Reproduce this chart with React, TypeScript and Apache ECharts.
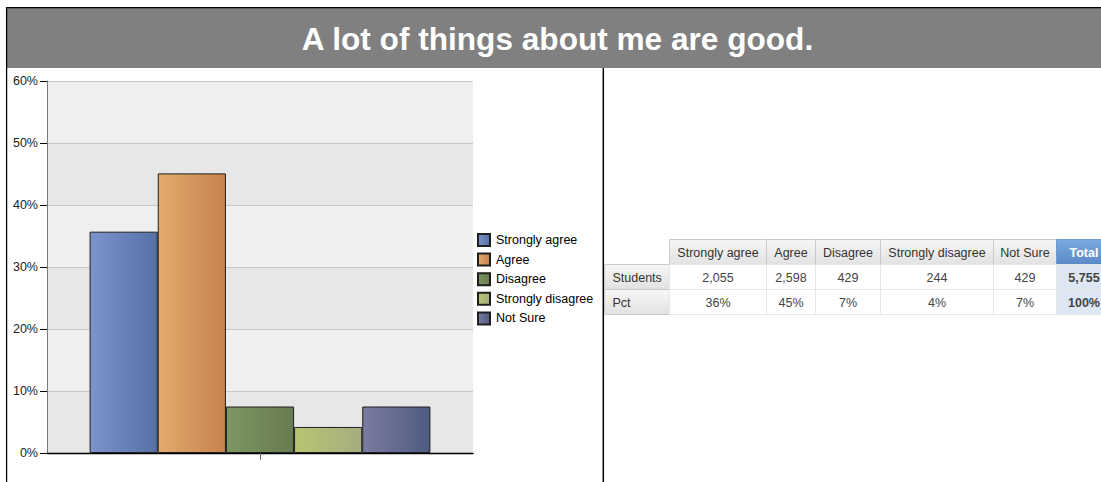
import React, { useEffect, useRef } from "react";
import * as echarts from "echarts";

// ---- Data ----
const chartTitle = "A lot of things about me are good.";
const categories = ["Responses"];
const seriesNames = ["Strongly agree", "Agree", "Disagree", "Strongly disagree", "Not Sure"];
const pctValues = [35.7, 45.1, 7.5, 4.2, 7.5];
const yTicks = [0, 10, 20, 30, 40, 50, 60];
const tableColumns = ["Strongly agree", "Agree", "Disagree", "Strongly disagree", "Not Sure", "Total"];
const tableRowLabels = ["Students", "Pct"];
const studentCounts = [2055, 2598, 429, 244, 429];
const studentTotal = 5755;
const tablePct = [36, 45, 7, 4, 7];
const tablePctTotal = 100;

// ---- Styles ----
const FONT = "'Liberation Sans', Arial, Helvetica, sans-serif";
const barGradients: [string, string][] = [
  ["#7c95cd", "#5470a5"],
  ["#e2ab6d", "#c8824d"],
  ["#7d9761", "#677b51"],
  ["#b7c673", "#a4ad80"],
  ["#7b7ca1", "#4e5b80"],
];

function fmt(n: number) {
  return n.toString().replace(/\B(?=(\d{3})+(?!\d))/g, ",");
}

export default function App() {
  const ref = useRef<HTMLDivElement>(null);

  useEffect(() => {
    if (!ref.current) return;
    const chart = echarts.init(ref.current, undefined, { renderer: "svg" });

    const series = seriesNames.map((name, i) => ({
      name,
      type: "bar" as const,
      data: [pctValues[i]],
      barGap: "0%",
      barCategoryGap: "20%",
      itemStyle: {
        color: new echarts.graphic.LinearGradient(0, 0, 1, 0, [
          { offset: 0, color: barGradients[i][0] },
          { offset: 1, color: barGradients[i][1] },
        ]),
        borderColor: "#1e1e1e",
        borderWidth: 1,
      },
    }));

    // Table built from arrays
    const tableLeft = 604;
    const rowHeaderW = 65;
    const colWidths = [97, 49, 65, 113, 63, 55];
    const headerTop = 239.5;
    const rowH = 25;
    const graphics: any[] = [];

    // Title bar and frame
    graphics.push({
      type: "rect",
      shape: { x: 7, y: 8, width: 1100, height: 60 },
      style: { fill: "#808080" },
      z: 0,
    });
    graphics.push({
      type: "text",
      x: 557.5,
      y: 38.5,
      style: {
        text: chartTitle,
        fill: "#ffffff",
        fontSize: 31.6,
        fontWeight: "bold",
        fontFamily: FONT,
        align: "center",
        verticalAlign: "middle",
      },
      z: 1,
    });
    graphics.push({ type: "line", shape: { x1: 6, y1: 7.7, x2: 1101, y2: 7.7 }, style: { stroke: "#000", lineWidth: 1.3 } });
    graphics.push({ type: "line", shape: { x1: 6.6, y1: 7, x2: 6.6, y2: 482 }, style: { stroke: "#000", lineWidth: 1.3 } });
    graphics.push({ type: "line", shape: { x1: 603.3, y1: 68, x2: 603.3, y2: 482 }, style: { stroke: "#000", lineWidth: 1.5 } });

    const grayGrad = () =>
      new echarts.graphic.LinearGradient(0, 0, 0, 1, [
        { offset: 0, color: "#f6f6f6" },
        { offset: 1, color: "#e2e2e2" },
      ]);
    const blueGrad = () =>
      new echarts.graphic.LinearGradient(0, 0, 0, 1, [
        { offset: 0, color: "#7ba8dd" },
        { offset: 1, color: "#5a89c8" },
      ]);

    // Header row
    let x = tableLeft + rowHeaderW;
    tableColumns.forEach((col, ci) => {
      const w = colWidths[ci];
      const isTotal = ci === tableColumns.length - 1;
      graphics.push({
        type: "rect",
        shape: { x: x + 0.5, y: headerTop, width: w, height: rowH },
        style: { fill: isTotal ? blueGrad() : grayGrad(), stroke: isTotal ? "#6f9bd3" : "#c9c9c9", lineWidth: 1 },
      });
      graphics.push({
        type: "text",
        x: x + w / 2 + 0.5,
        y: headerTop + rowH / 2 + 0.5,
        style: {
          text: col,
          fill: isTotal ? "#ffffff" : "#333333",
          fontSize: 12.5,
          fontWeight: isTotal ? "bold" : "normal",
          fontFamily: FONT,
          align: "center",
          verticalAlign: "middle",
        },
      });
      x += w;
    });

    // Body rows
    const rowsData = [
      [...studentCounts.map(fmt), fmt(studentTotal)],
      [...tablePct.map((p) => p + "%"), tablePctTotal + "%"],
    ];
    tableRowLabels.forEach((label, ri) => {
      const y = headerTop + rowH * (ri + 1);
      graphics.push({
        type: "rect",
        shape: { x: tableLeft + 0.5, y, width: rowHeaderW, height: rowH },
        style: { fill: grayGrad(), stroke: "#c9c9c9", lineWidth: 1 },
      });
      graphics.push({
        type: "text",
        x: tableLeft + 8.5,
        y: y + rowH / 2 + 0.5,
        style: {
          text: label,
          fill: "#333333",
          fontSize: 12.5,
          fontFamily: FONT,
          align: "left",
          verticalAlign: "middle",
        },
      });
      let cx = tableLeft + rowHeaderW;
      rowsData[ri].forEach((val, ci) => {
        const w = colWidths[ci];
        const isTotal = ci === rowsData[ri].length - 1;
        graphics.push({
          type: "rect",
          shape: { x: cx + 0.5, y, width: w, height: rowH },
          style: { fill: isTotal ? "#dde6f3" : "#ffffff", stroke: "#e6e6e6", lineWidth: 1 },
        });
        graphics.push({
          type: "text",
          x: cx + w / 2 + 0.5,
          y: y + rowH / 2 + 0.5,
          style: {
            text: val,
            fill: "#444444",
            fontSize: 12.5,
            fontWeight: isTotal ? "bold" : "normal",
            fontFamily: FONT,
            align: "center",
            verticalAlign: "middle",
          },
        });
        cx += w;
      });
    });

    chart.setOption({
      animation: false,
      backgroundColor: "#ffffff",
      textStyle: { fontFamily: FONT },
      grid: { left: 47, top: 81, width: 426, height: 372, containLabel: false },
      legend: {
        orient: "vertical",
        left: 477,
        top: 233,
        itemWidth: 12,
        itemHeight: 12,
        itemGap: 5.6,
        icon: "rect",
        padding: 0,
        textStyle: { fontSize: 12.5, color: "#000", fontFamily: FONT, lineHeight: 12, padding: [0, 0, 0, 1] },
        data: seriesNames,
      },
      xAxis: {
        type: "category",
        data: categories,
        axisLine: { show: true, lineStyle: { color: "#000", width: 1.3 } },
        axisTick: { show: true, alignWithLabel: true, length: 7, lineStyle: { color: "#666" } },
        axisLabel: { show: false },
        splitLine: { show: false },
      },
      yAxis: {
        type: "value",
        min: yTicks[0],
        max: yTicks[yTicks.length - 1],
        interval: yTicks[1] - yTicks[0],
        axisLine: { show: true, lineStyle: { color: "#7a7a7a", width: 1 } },
        axisTick: { show: true, length: 7, lineStyle: { color: "#000" } },
        axisLabel: { formatter: "{value}%", fontSize: 12.5, color: "#222", margin: 9, fontFamily: FONT },
        splitLine: { show: true, lineStyle: { color: "#c8c8c8", width: 1 } },
        splitArea: { show: true, areaStyle: { color: ["#e7e7e7", "#efefef"] } },
      },
      series,
      graphic: graphics,
    });

    return () => chart.dispose();
  }, []);

  return (
    <div
      ref={ref}
      style={{ position: "fixed", left: 0, top: 0, width: 1101, height: 482 }}
    />
  );
}
